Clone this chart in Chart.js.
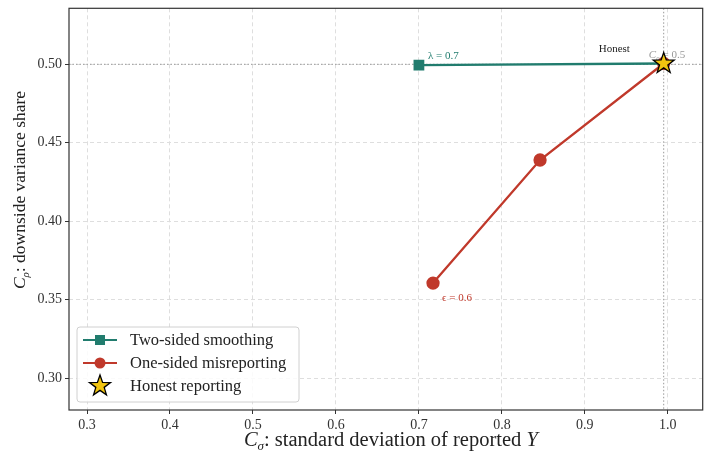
<!DOCTYPE html>
<html>
<head>
<meta charset="utf-8">
<script src="https://cdn.jsdelivr.net/npm/chart.js@4.4.0/dist/chart.umd.min.js"></script>
<style>
  html, body { margin: 0; padding: 0; background: #fff; overflow: hidden; }
  #wrap { width: 705px; height: 454px; overflow: hidden; }
</style>
</head>
<body>
<div id="wrap"><canvas id="chart" width="711" height="454"></canvas></div>
<script>
// data
const twoSidedX = [0.700, 0.995];
const twoSidedY = [0.4995, 0.5005];
const oneSidedX = [0.717, 0.846, 0.995];
const oneSidedY = [0.3605, 0.4390, 0.5005];
const honestX = [0.995];
const honestY = [0.5005];
const xTicks = [0.3, 0.4, 0.5, 0.6, 0.7, 0.8, 0.9, 1.0];
const yTicks = [0.30, 0.35, 0.40, 0.45, 0.50];
const refSigma = 0.995;
const refRho = 0.5;

const GREEN = '#217c6e';
const RED = '#c0392b';
const GOLD = '#f1c40f';
const SERIF = '"Liberation Serif", "DejaVu Serif", serif';

const toPts = (xs, ys) => xs.map((x, i) => ({ x: x, y: ys[i] }));

function starPath(ctx, cx, cy, r) {
  ctx.beginPath();
  for (let i = 0; i < 10; i++) {
    const rad = i % 2 === 0 ? r : r * 0.4;
    const a = -Math.PI / 2 + i * Math.PI / 5;
    const px = cx + rad * Math.cos(a), py = cy + rad * Math.sin(a);
    if (i === 0) ctx.moveTo(px, py); else ctx.lineTo(px, py);
  }
  ctx.closePath();
}

// "C" + subscript + rest, centred on cx
function mathLabel(ctx, sub, rest, restItalic, size, cx, cy) {
  const parts = [
    { t: 'C', f: 'italic ' + size + 'px ' + SERIF, dy: 0 },
    { t: sub, f: 'italic ' + Math.round(size * 0.65) + 'px ' + SERIF, dy: size * 0.2 },
    { t: rest, f: size + 'px ' + SERIF, dy: 0 }
  ];
  if (restItalic) parts.push({ t: restItalic, f: 'italic ' + size + 'px ' + SERIF, dy: 0 });
  let total = 0;
  parts.forEach(p => { ctx.font = p.f; p.w = ctx.measureText(p.t).width; total += p.w; });
  let x = cx - total / 2;
  parts.forEach(p => { ctx.font = p.f; ctx.fillText(p.t, x, cy + p.dy); x += p.w; });
}

// reference lines, frame, axis titles, annotations, legend
const extras = {
  id: 'extras',
  beforeDatasetsDraw(chart) {
    const { ctx, chartArea: a, scales: { x, y } } = chart;
    ctx.save();
    ctx.strokeStyle = '#999';
    ctx.lineWidth = 1;
    ctx.setLineDash([1.5, 2]);
    const yr = y.getPixelForValue(refRho);
    ctx.beginPath(); ctx.moveTo(a.left, yr); ctx.lineTo(a.right, yr); ctx.stroke();
    const xr = x.getPixelForValue(refSigma);
    ctx.beginPath(); ctx.moveTo(xr, a.top); ctx.lineTo(xr, a.bottom); ctx.stroke();
    ctx.restore();
  },
  afterDraw(chart) {
    const { ctx, chartArea: a, scales: { x, y } } = chart;
    ctx.save();
    // frame
    ctx.strokeStyle = '#333';
    ctx.lineWidth = 1.2;
    ctx.strokeRect(a.left, a.top, a.right - a.left, a.bottom - a.top);

    // axis titles
    ctx.fillStyle = '#222';
    ctx.textBaseline = 'alphabetic';
    mathLabel(ctx, 'σ', ': standard deviation of reported ', 'Y', 20.5, (a.left + a.right) / 2 + 5, 446);
    ctx.save();
    ctx.translate(25, 190);
    ctx.rotate(-Math.PI / 2);
    mathLabel(ctx, 'ρ', ': downside variance share', '', 17.5, 0, 0);
    ctx.restore();

    // annotations
    ctx.font = '11px ' + SERIF;
    ctx.fillStyle = GREEN;
    ctx.fillText('λ = 0.7', x.getPixelForValue(twoSidedX[0]) + 9, y.getPixelForValue(twoSidedY[0]) - 6);
    ctx.fillStyle = RED;
    ctx.fillText('ϵ = 0.6', x.getPixelForValue(oneSidedX[0]) + 9, y.getPixelForValue(oneSidedY[0]) + 18);
    ctx.fillStyle = '#222';
    ctx.fillText('Honest', x.getPixelForValue(honestX[0]) - 65, y.getPixelForValue(honestY[0]) - 12);
    ctx.fillStyle = '#999';
    ctx.font = 'italic 11px ' + SERIF;
    const hx = x.getPixelForValue(honestX[0]) - 15, hy = y.getPixelForValue(refRho) - 6;
    ctx.fillText('C', hx, hy);
    ctx.font = 'italic 7px ' + SERIF;
    ctx.fillText('ρ', hx + 7.5, hy + 2);
    ctx.font = '11px ' + SERIF;
    ctx.fillText(' = 0.5', hx + 11, hy);

    // redraw star on top of the annotation
    const sx = x.getPixelForValue(honestX[0]), sy = y.getPixelForValue(honestY[0]);
    starPath(ctx, sx, sy, 11);
    ctx.fillStyle = GOLD; ctx.fill();
    ctx.strokeStyle = '#000'; ctx.lineWidth = 1.3; ctx.stroke();

    // legend
    const lx = 77, ly = 327, lw = 222, lh = 75;
    ctx.beginPath();
    ctx.roundRect(lx, ly, lw, lh, 3);
    ctx.fillStyle = 'rgba(255,255,255,0.85)'; ctx.fill();
    ctx.strokeStyle = '#d0d0d0'; ctx.lineWidth = 1; ctx.stroke();
    const items = [
      { label: 'Two-sided smoothing', color: GREEN, mark: 'rect' },
      { label: 'One-sided misreporting', color: RED, mark: 'circle' },
      { label: 'Honest reporting', mark: 'star' }
    ];
    ctx.font = '16.5px ' + SERIF;
    ctx.textBaseline = 'middle';
    items.forEach((it, i) => {
      const cy = ly + 13 + i * 23;
      if (it.mark !== 'star') {
        ctx.strokeStyle = it.color; ctx.lineWidth = 2.2;
        ctx.beginPath(); ctx.moveTo(lx + 6, cy); ctx.lineTo(lx + 40, cy); ctx.stroke();
        ctx.fillStyle = it.color;
        if (it.mark === 'rect') ctx.fillRect(lx + 23 - 5, cy - 5, 10, 10);
        else { ctx.beginPath(); ctx.arc(lx + 23, cy, 5.5, 0, Math.PI * 2); ctx.fill(); }
      } else {
        starPath(ctx, lx + 23, cy, 11);
        ctx.fillStyle = GOLD; ctx.fill();
        ctx.strokeStyle = '#000'; ctx.lineWidth = 1.3; ctx.stroke();
      }
      ctx.fillStyle = '#222';
      ctx.fillText(it.label, lx + 53, cy + 1);
    });
    ctx.restore();
  }
};

new Chart(document.getElementById('chart'), {
  type: 'scatter',
  data: {
    datasets: [
      {
        label: 'Two-sided smoothing',
        data: toPts(twoSidedX, twoSidedY),
        showLine: true,
        borderColor: GREEN,
        backgroundColor: GREEN,
        borderWidth: 2.3,
        pointStyle: 'rect',
        pointRadius: [6, 0],
        pointHoverRadius: 0
      },
      {
        label: 'One-sided misreporting',
        data: toPts(oneSidedX, oneSidedY),
        showLine: true,
        borderColor: RED,
        backgroundColor: RED,
        borderWidth: 2.3,
        pointStyle: 'circle',
        pointRadius: 5.5,
        pointHoverRadius: 0
      },
      {
        label: 'Honest reporting',
        data: toPts(honestX, honestY),
        pointRadius: 0
      }
    ]
  },
  options: {
    responsive: false,
    animation: false,
    events: [],
    layout: { padding: { top: 8, right: 2, left: 0, bottom: 0 } },
    plugins: { legend: { display: false }, tooltip: { enabled: false } },
    scales: {
      x: {
        type: 'linear',
        min: 0.2783,
        max: 1.042,
        afterBuildTicks: s => { s.ticks = xTicks.map(v => ({ value: v })); },
        afterFit: s => { s.height = 44; s.paddingLeft = 0; s.paddingRight = 0; },
        border: { display: false, dash: [4, 3] },
        grid: { color: '#dedede', tickColor: '#333', tickLength: 4, tickBorderDash: [] },
        ticks: {
          color: '#333',
          font: { family: SERIF, size: 14 },
          padding: 3,
          maxRotation: 0,
          callback: v => v.toFixed(1)
        }
      },
      y: {
        type: 'linear',
        min: 0.2796,
        max: 0.5357,
        afterBuildTicks: s => { s.ticks = yTicks.map(v => ({ value: v })); },
        afterFit: s => { s.width = 69; s.paddingTop = 0; s.paddingBottom = 0; },
        border: { display: false, dash: [4, 3] },
        grid: { color: '#dedede', tickColor: '#333', tickLength: 4, tickBorderDash: [] },
        ticks: {
          color: '#333',
          font: { family: SERIF, size: 14 },
          padding: 3,
          callback: v => v.toFixed(2)
        }
      }
    }
  },
  plugins: [extras]
});
</script>
</body>
</html>
